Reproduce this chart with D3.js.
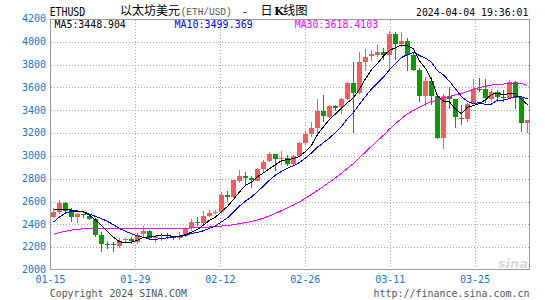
<!DOCTYPE html>
<html>
<head>
<meta charset="UTF-8" />
<script src="https://d3js.org/d3.v7.min.js"></script>
<style>
  body { margin: 0; background: #fff; }
  svg text { font-family: "DejaVu Sans Mono", monospace; }
</style>
</head>
<body>
<script>
  // daily candles, 2024-01-15 .. 2024-04-03
  var dates = [
    "2024-01-15","2024-01-16","2024-01-17","2024-01-18","2024-01-19","2024-01-20","2024-01-21","2024-01-22",
    "2024-01-23","2024-01-24","2024-01-25","2024-01-26","2024-01-27","2024-01-28","2024-01-29","2024-01-30",
    "2024-01-31","2024-02-01","2024-02-02","2024-02-03","2024-02-04","2024-02-05","2024-02-06","2024-02-07",
    "2024-02-08","2024-02-09","2024-02-10","2024-02-11","2024-02-12","2024-02-13","2024-02-14","2024-02-15",
    "2024-02-16","2024-02-17","2024-02-18","2024-02-19","2024-02-20","2024-02-21","2024-02-22","2024-02-23",
    "2024-02-24","2024-02-25","2024-02-26","2024-02-27","2024-02-28","2024-02-29","2024-03-01","2024-03-02",
    "2024-03-03","2024-03-04","2024-03-05","2024-03-06","2024-03-07","2024-03-08","2024-03-09","2024-03-10",
    "2024-03-11","2024-03-12","2024-03-13","2024-03-14","2024-03-15","2024-03-16","2024-03-17","2024-03-18",
    "2024-03-19","2024-03-20","2024-03-21","2024-03-22","2024-03-23","2024-03-24","2024-03-25","2024-03-26",
    "2024-03-27","2024-03-28","2024-03-29","2024-03-30","2024-03-31","2024-04-01","2024-04-02","2024-04-03"
  ];

  var open = [2463,2507,2589,2530,2466,2488,2475,2450,2310,2230,2228,2215,2258,2270,2252,2310,
    2340,2282,2300,2305,2292,2283,2298,2368,2420,2412,2477,2500,2512,2660,2640,2785,
    2825,2805,2787,2888,2950,3015,2968,2978,2925,2995,3112,3190,3243,3390,3345,3438,
    3422,3495,3638,3550,3825,3870,3890,3912,3882,4070,3985,4010,3885,3755,3527,3658,
    3527,3160,3527,3497,3335,3325,3458,3590,3585,3503,3560,3515,3508,3652,3512,3285];
  var high = [2540,2612,2592,2545,2500,2495,2480,2460,2335,2258,2244,2280,2284,2290,2323,2385,
    2350,2308,2320,2323,2300,2330,2375,2448,2463,2521,2525,2530,2680,2690,2792,2880,
    2860,2823,2895,2968,3035,3020,3045,3005,3005,3125,3215,3295,3495,3530,3450,3450,
    3505,3650,3825,3910,3940,3925,3970,3950,4095,4090,4090,4030,3905,3770,3695,3695,
    3540,3540,3600,3500,3445,3465,3670,3685,3670,3590,3575,3575,3665,3660,3515,3315];
  var low = [2458,2492,2507,2420,2413,2460,2440,2290,2160,2185,2162,2190,2244,2228,2225,2290,
    2270,2235,2258,2270,2262,2260,2288,2340,2390,2400,2463,2490,2495,2595,2630,2765,
    2745,2720,2780,2860,2945,2865,2920,2910,2920,2990,3100,3165,3190,3300,3335,3390,
    3365,3490,3200,3545,3740,3830,3870,3845,3740,3845,3955,3740,3740,3470,3440,3450,
    3150,3060,3415,3245,3275,3300,3450,3560,3460,3475,3475,3475,3500,3410,3212,3205];
  var close = [2507,2589,2521,2466,2488,2475,2450,2310,2230,2228,2215,2258,2270,2252,2310,2340,
    2282,2300,2305,2292,2283,2298,2368,2420,2412,2477,2500,2512,2660,2640,2785,2825,
    2805,2787,2888,2950,3015,2968,2978,2925,2995,3112,3190,3243,3390,3345,3438,3422,
    3495,3638,3550,3825,3870,3890,3912,3882,4070,3985,4010,3885,3755,3527,3658,3527,
    3160,3527,3497,3335,3325,3458,3590,3585,3503,3560,3515,3508,3652,3512,3285,3312];

  // moving average lines as drawn on the chart
  var ma5 = [2532,2532,2530,2525,2514,2508,2480,2438,2391,2339,2287,2248,2240,2245,2261,2286,
    2291,2297,2307,2304,2292,2296,2309,2332,2356,2395,2435,2464,2512,2558,2619,2684,
    2743,2768,2818,2851,2889,2922,2960,2967,2976,2996,3040,3093,3186,3256,3321,3368,
    3418,3468,3509,3586,3676,3755,3809,3876,3925,3948,3972,3966,3941,3832,3767,3670,
    3525,3480,3474,3409,3369,3428,3441,3459,3492,3539,3551,3534,3548,3549,3494,3449];
  var ma10 = [2420,2465,2500,2515,2518,2510,2490,2470,2450,2426,2397,2364,2339,2318,2300,2286,
    2270,2269,2276,2282,2289,2293,2303,2320,2330,2344,2366,2387,2422,2457,2507,2560,
    2604,2640,2688,2735,2787,2832,2864,2893,2914,2942,2981,3026,3077,3116,3158,3204,
    3256,3327,3382,3454,3522,3586,3639,3692,3755,3812,3863,3888,3908,3879,3857,3821,
    3746,3710,3653,3588,3520,3477,3460,3466,3451,3454,3490,3488,3503,3521,3517,3499];
  var ma30 = [2312,2328,2340,2350,2357,2361,2364,2366,2366,2366,2366,2366,2366,2366,2366,2366,
    2366,2366,2366,2366,2366,2366,2367,2369,2371,2374,2377,2381,2385,2389,2398,2406,
    2415,2426,2439,2455,2474,2496,2521,2544,2570,2599,2629,2662,2698,2732,2770,2808,
    2847,2892,2934,2985,3035,3084,3134,3181,3234,3283,3328,3369,3401,3425,3453,3478,
    3487,3506,3522,3535,3546,3564,3584,3600,3610,3621,3625,3630,3637,3640,3633,3618];

  var yTicks = [2000,2200,2400,2600,2800,3000,3200,3400,3600,3800,4000,4200];
  var xTicks = ["2024-01-15","2024-01-29","2024-02-12","2024-02-26","2024-03-11","2024-03-25"];

  var W = 545, H = 300;
  var svg = d3.select("body").append("svg")
    .attr("width", W)
    .attr("height", H);

  var parse = d3.timeParse("%Y-%m-%d");

  // candles sit on a band scale, date grid on its own time scale
  var x = d3.scaleBand().domain(dates).range([49.6, 529.6]);
  var xt = d3.scaleTime()
    .domain([parse("2024-01-15"), parse("2024-03-25")])
    .range([50, 474.6]);
  var y = d3.scaleLinear().domain([2000, 4200]).range([270, 19]);

  function cx(d) { return Math.round(x(d) + x.bandwidth() / 2); }

  // grid
  var grid = svg.append("g").attr("stroke", "#aaa").attr("stroke-dasharray", "1,2");
  grid.selectAll("line.h").data(yTicks.slice(1, -1)).enter().append("line")
    .attr("x1", 51).attr("x2", 529)
    .attr("y1", function (d) { return Math.round(y(d)) + 0.5; })
    .attr("y2", function (d) { return Math.round(y(d)) + 0.5; });
  grid.selectAll("line.v").data(xTicks.slice(1)).enter().append("line")
    .attr("x1", function (d) { return Math.round(xt(parse(d))) + 0.5; })
    .attr("x2", function (d) { return Math.round(xt(parse(d))) + 0.5; })
    .attr("y1", 20).attr("y2", 269);

  // sina watermark
  svg.append("text")
    .attr("x", 513).attr("y", 268)
    .attr("text-anchor", "middle")
    .style("font-family", "DejaVu Sans")
    .style("font-size", "13px")
    .style("font-weight", "bold")
    .style("font-style", "italic")
    .attr("fill", "#d8d8d8")
    .text("sina");

  // frame
  svg.append("rect")
    .attr("x", 50.5).attr("y", 19.5)
    .attr("width", 479).attr("height", 250)
    .attr("fill", "none")
    .attr("stroke", "#999");

  // axes
  var yAxis = svg.append("g")
    .attr("transform", "translate(50,0)")
    .call(d3.axisLeft(y).tickValues(yTicks).tickSize(0).tickPadding(4).tickFormat(d3.format("d")));
  yAxis.select(".domain").remove();
  yAxis.selectAll("text")
    .attr("fill", "#1177cc")
    .attr("dy", "0.28em")
    .style("font-size", "10px")
    .style("font-family", "DejaVu Sans Mono");

  var xAxis = svg.append("g")
    .attr("transform", "translate(0,270)")
    .call(d3.axisBottom(xt)
      .tickValues(xTicks.map(parse))
      .tickSize(0).tickPadding(6)
      .tickFormat(d3.timeFormat("%m-%d")));
  xAxis.select(".domain").remove();
  xAxis.selectAll("text")
    .attr("fill", "#1177cc")
    .style("font-size", "10px")
    .style("font-family", "DejaVu Sans Mono");

  // candles
  var idx = d3.range(dates.length);
  var candle = svg.append("g")
    .attr("shape-rendering", "crispEdges")
    .selectAll("g").data(idx).enter().append("g")
    .attr("fill", function (i) { return close[i] >= open[i] ? "#f65b5b" : "#00a000"; })
    .attr("stroke", function (i) { return close[i] >= open[i] ? "#f65b5b" : "#00a000"; });

  candle.append("line")
    .attr("x1", function (i) { return cx(dates[i]) + 0.5; })
    .attr("x2", function (i) { return cx(dates[i]) + 0.5; })
    .attr("y1", function (i) { return Math.round(y(high[i])); })
    .attr("y2", function (i) { return Math.round(y(low[i])); });

  candle.append("rect")
    .attr("stroke", "none")
    .attr("x", function (i) { return cx(dates[i]) - 2; })
    .attr("width", 5)
    .attr("y", function (i) { return Math.round(y(Math.max(open[i], close[i]))); })
    .attr("height", function (i) {
      return Math.max(1, Math.round(Math.abs(y(open[i]) - y(close[i]))));
    });

  // moving averages
  function maLine(vals) {
    return d3.line()
      .x(function (v, i) { return cx(dates[i]) + 0.5; })
      .y(function (v) { return y(v); })(vals);
  }
  [[ma30, "#ff00ff"], [ma10, "#0000ff"], [ma5, "#000"]].forEach(function (m) {
    svg.append("path")
      .attr("d", maLine(m[0]))
      .attr("fill", "none")
      .attr("stroke", m[1])
      .attr("stroke-width", 1)
      .attr("shape-rendering", "crispEdges");
  });

  // legend inside plot
  var legend = [
    { t: "MA5:3448.904", x: 54.6, w: 71.2, c: "#000" },
    { t: "MA10:3499.369", x: 174.5, w: 78.2, c: "#0000ff" },
    { t: "MA30:3618.4103", x: 294.7, w: 83.5, c: "#ff00ff" }
  ];
  svg.selectAll("text.leg").data(legend).enter().append("text")
    .attr("class", "leg")
    .attr("x", function (d) { return d.x; })
    .attr("y", 28.3)
    .attr("textLength", function (d) { return d.w; })
    .attr("lengthAdjust", "spacingAndGlyphs")
    .attr("fill", function (d) { return d.c; })
    .style("font-size", "10.5px")
    .text(function (d) { return d.t; });

  // header
  function txt(s, px, py, opts) {
    var t = svg.append("text").attr("x", px).attr("y", py).text(s);
    if (opts.w) t.attr("textLength", opts.w).attr("lengthAdjust", "spacingAndGlyphs");
    t.style("font-size", opts.size || "11px");
    if (opts.font) t.style("font-family", opts.font);
    if (opts.bold) t.style("font-weight", "bold");
    t.attr("fill", opts.color || "#000");
    return t;
  }
  var cjk = "'Noto Sans CJK SC', sans-serif";
  txt("ETHUSD", 49.7, 15.6, { w: 35.5, size: "11.5px" });
  txt("以太坊美元", 120, 15.2, { w: 60, size: "12px", font: cjk });
  txt("(ETH/USD)", 180.7, 15, { w: 51, size: "10.5px", font: "Liberation Mono", color: "#555" });
  txt("-", 241.5, 15, { size: "11px" });
  txt("日", 260.5, 15.2, { size: "12px", font: cjk });
  txt("K", 274.3, 15, { size: "11px", font: "DejaVu Serif", bold: true });
  txt("线图", 283, 15.2, { w: 24.6, size: "12px", font: cjk });
  txt("2024-04-04 19:36:01", 416, 15.6, { w: 112.3, size: "11px" });

  // footer
  txt("Copyright 2024 SINA.COM", 49.7, 297.4, { w: 137.3, size: "10px", color: "#555" });
  txt("http://finance.sina.com.cn", 373.6, 297.4, { w: 155.8, size: "10px", color: "#555" });
</script>
</body>
</html>
